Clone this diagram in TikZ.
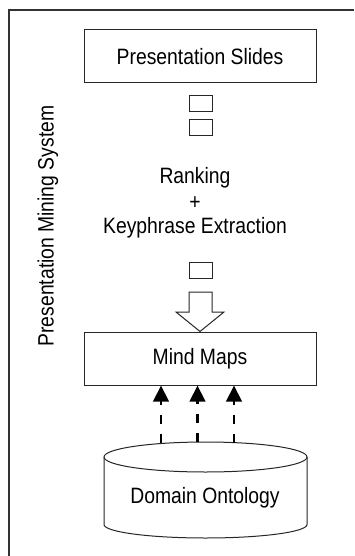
\documentclass[tikz,border=0pt]{standalone}
\usepackage{fontspec}
\setmainfont{Liberation Sans}
\usetikzlibrary{arrows.meta,calc}
\newcommand{\tallt}[1]{\scalebox{1}[1.15]{#1}}
\begin{document}
\begin{tikzpicture}[x=0.75pt,y=-0.75pt,
  txt/.style={inner sep=0pt,font=\fontsize{14.5pt}{16pt}\selectfont},
  box/.style={draw=black!85,line width=0.75pt,fill=white},
  sq/.style={draw=black!85,line width=0.75pt,minimum width=17.25pt,minimum height=12.4pt,inner sep=0pt},
  darr/.style={draw=black,line width=2.2pt,dash pattern=on 6.75pt off 7.5pt,
     -{Triangle[length=12pt,width=11.5pt]}}]
\useasboundingbox (0,0) rectangle (354,556);
% outer frame (only left and top visible)
\draw[black!80,line width=1.5pt] (9,556) -- (9,10) -- (354,10);
% boxes
\node[box,minimum width=174pt,minimum height=39.75pt,txt] (ps) at (200,56.5) {\tallt{Presentation Slides}};
\node[sq] (s1) at (200.5,103.5) {};
\node[sq,minimum height=12pt] (s2) at (200.5,128) {};
\node[txt] (rk) at (195,178) {\tallt{Ranking}};
\node[txt] (pl) at (195,203) {\tallt{+}};
\node[txt] (ke) at (195,228) {\tallt{Keyphrase Extraction}};
\node[sq] (s3) at (200.5,270.5) {};
\node[box,minimum width=174pt,minimum height=39.75pt,txt] (mm) at (200,358.5) {\tallt{Mind Maps}};
% big hollow arrow
\coordinate (ba) at (200.5,292);
\draw[black!85,line width=0.75pt,fill=white]
  ($(ba)+(-11.5,0)$) -- ($(ba)+(11.5,0)$) -- ($(ba)+(11.5,20)$) -- ($(ba)+(23.5,20)$)
  -- (mm.north) -- ($(ba)+(-24.5,20)$) -- ($(ba)+(-11.5,20)$) -- cycle;
% cylinder
\draw[black!85,line width=0.75pt,fill=white]
  (104,457) -- (104,524.5) arc[start angle=180,end angle=0,x radius=101.5,y radius=13.5]
  -- (307,457) arc[start angle=0,end angle=-180,x radius=101.5,y radius=15];
\draw[black!85,line width=0.75pt] (104,457) arc[start angle=180,end angle=0,x radius=101.5,y radius=15];
\node[txt] (do) at (205,498) {\tallt{Domain Ontology}};
\coordinate (c1) at (161,442.5);
\coordinate (c2) at (197.5,442);
\coordinate (c3) at (234,442.5);
\draw[darr] (c1) -- (c1 |- mm.south);
\draw[darr] (c2) -- (c2 |- mm.south);
\draw[darr] (c3) -- (c3 |- mm.south);
% side label
\node[txt,rotate=90] (pms) at (48,226) {\tallt{Presentation Mining System}};
\end{tikzpicture}
\end{document}
